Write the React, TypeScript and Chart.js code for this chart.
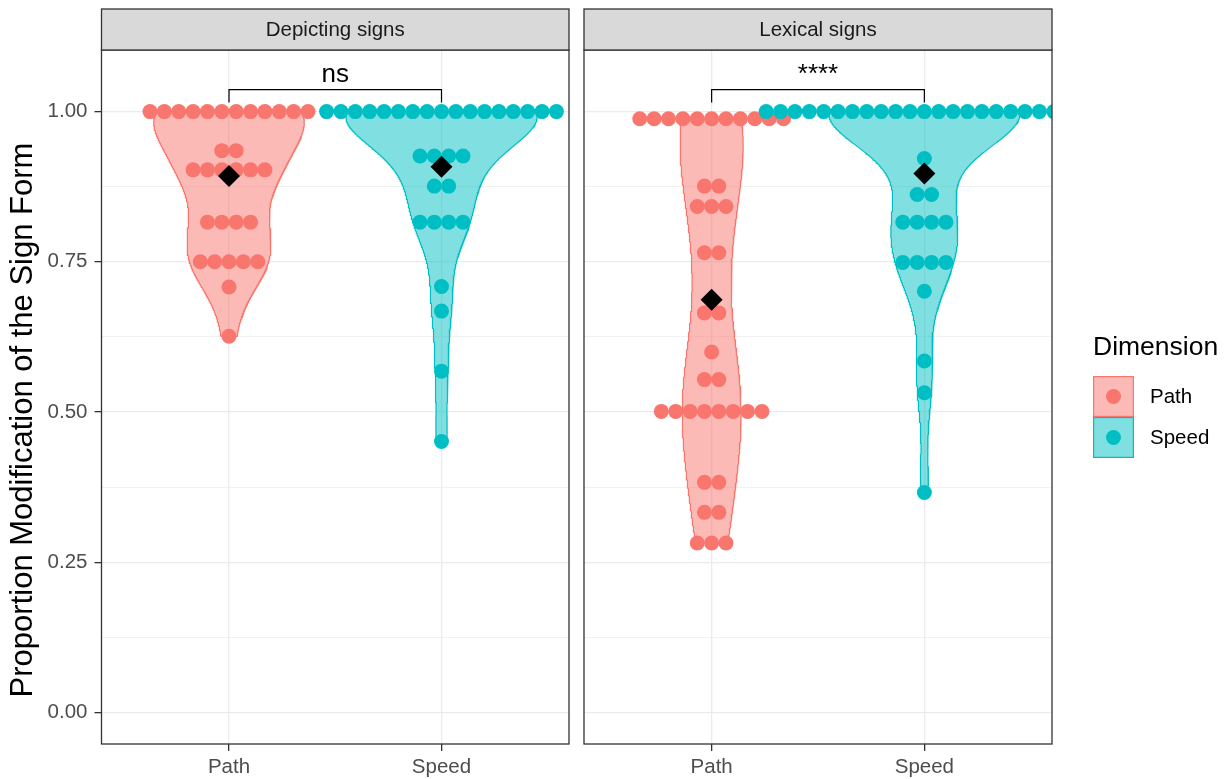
import React, { useEffect, useRef } from 'react';
import { Chart, registerables } from 'chart.js';

Chart.register(...registerables);

// ---------------- data ----------------
const categories = ['Path', 'Speed'];
const facets = ['Depicting signs', 'Lexical signs'];

// Each row of stacked dots: value and number of dots in it
const depictingPathValues = [1.0, 0.935, 0.903, 0.816, 0.75, 0.708, 0.626];
const depictingPathCounts = [12, 2, 6, 4, 5, 1, 1];
const depictingSpeedValues = [1.0, 0.926, 0.876, 0.816, 0.709, 0.668, 0.568, 0.451];
const depictingSpeedCounts = [17, 4, 2, 4, 1, 1, 1, 1];
const lexicalPathValues = [0.988, 0.876, 0.842, 0.765, 0.665, 0.6, 0.554, 0.501, 0.383, 0.333, 0.282];
const lexicalPathCounts = [11, 2, 3, 2, 2, 1, 2, 8, 2, 2, 3];
const lexicalSpeedValues = [1.0, 0.922, 0.862, 0.816, 0.749, 0.701, 0.585, 0.532, 0.366];
const lexicalSpeedCounts = [23, 1, 2, 4, 4, 1, 1, 1, 1];

const depictingMeans = [0.893, 0.908];
const lexicalMeans = [0.687, 0.897];

const significanceLabels = ['ns', '****'];
const yTickValues = [0, 0.25, 0.5, 0.75, 1];
const yTickLabels = ['0.00', '0.25', '0.50', '0.75', '1.00'];
const yMinorValues = [0.125, 0.375, 0.625, 0.875];
const legendTitle = 'Dimension';
const yAxisTitle = 'Proportion Modification of the Sign Form';

// ---------------- styles ----------------
const FONT = '"Liberation Sans", Arial, Helvetica, sans-serif';
const COLORS = ['#F8766D', '#00BFC4'];
const FILLS = ['rgba(248,118,109,0.5)', 'rgba(0,191,196,0.5)'];
const DOT_R = 7.5;
const DOT_STEP = 0.0676; // x units between stacked dots
const VIOLIN_HALF = 0.45;
const BRACKET_Y = 1.0366;
const BRACKET_TIP = 1.015;
const BRACKET_TEXT_Y = 1.05;
const Y_TITLE_X = 23;
const Y_TITLE_CY = 420;
const W = 1228;
const H = 779;

Chart.defaults.font.family = FONT;

// ---------------- helpers ----------------
function expand(values: number[], counts: number[]) {
  const out: number[] = [];
  values.forEach((v, i) => {
    for (let k = 0; k < counts[i]; k++) out.push(v);
  });
  return out;
}

function quantile7(sorted: number[], p: number) {
  const h = (sorted.length - 1) * p;
  const lo = Math.floor(h);
  const hi = Math.ceil(h);
  return sorted[lo] + (h - lo) * (sorted[hi] - sorted[lo]);
}

function bwNrd0(x: number[]) {
  const n = x.length;
  const mean = x.reduce((a, b) => a + b, 0) / n;
  const sd = Math.sqrt(x.reduce((a, b) => a + (b - mean) ** 2, 0) / (n - 1));
  const s = [...x].sort((a, b) => a - b);
  const iqr = quantile7(s, 0.75) - quantile7(s, 0.25);
  let lo = Math.min(sd, iqr / 1.34);
  if (!lo) lo = sd || Math.abs(x[0]) || 1;
  return 0.9 * lo * Math.pow(n, -0.2);
}

function kde(obs: number[], n = 512) {
  const bw = bwNrd0(obs);
  const from = Math.min(...obs);
  const to = Math.max(...obs);
  const ys: number[] = [];
  const ds: number[] = [];
  const norm = 1 / (obs.length * bw * Math.sqrt(2 * Math.PI));
  for (let i = 0; i < n; i++) {
    const y = from + ((to - from) * i) / (n - 1);
    let s = 0;
    for (const o of obs) {
      const z = (y - o) / bw;
      s += Math.exp(-0.5 * z * z);
    }
    ys.push(y);
    ds.push(s * norm);
  }
  return { y: ys, d: ds };
}

function dotRows(values: number[], counts: number[], cx: number) {
  const pts: { x: number; y: number }[] = [];
  values.forEach((v, i) => {
    const n = counts[i];
    for (let k = 0; k < n; k++) pts.push({ x: cx + (k - (n - 1) / 2) * DOT_STEP, y: v });
  });
  return pts;
}

const panels = [
  {
    facet: facets[0],
    groups: [
      [depictingPathValues, depictingPathCounts],
      [depictingSpeedValues, depictingSpeedCounts],
    ],
    means: depictingMeans,
    label: significanceLabels[0],
  },
  {
    facet: facets[1],
    groups: [
      [lexicalPathValues, lexicalPathCounts],
      [lexicalSpeedValues, lexicalSpeedCounts],
    ],
    means: lexicalMeans,
    label: significanceLabels[1],
  },
];

// ---------------- decoration plugin ----------------
const facetPlugin: any = {
  id: 'facetDecor',
  afterDraw(chart: any, _args: any, opts: any) {
    const { ctx, chartArea: a, scales } = chart;
    const xs = scales.x;
    const ys = scales.y;
    ctx.save();
    // panel border
    ctx.strokeStyle = '#333333';
    ctx.lineWidth = 1.3;
    ctx.strokeRect(a.left, a.top, a.right - a.left, a.bottom - a.top);
    // strip
    const stripTop = a.top - 41;
    ctx.fillStyle = '#D9D9D9';
    ctx.fillRect(a.left, stripTop, a.right - a.left, a.top - stripTop);
    ctx.strokeRect(a.left, stripTop, a.right - a.left, a.top - stripTop);
    ctx.fillStyle = '#1A1A1A';
    ctx.font = `20.5px ${FONT}`;
    ctx.textAlign = 'center';
    ctx.textBaseline = 'alphabetic';
    ctx.fillText(opts.strip, (a.left + a.right) / 2, a.top - 14);
    // significance bracket
    const x1 = xs.getPixelForValue(1);
    const x2 = xs.getPixelForValue(2);
    const yb = ys.getPixelForValue(BRACKET_Y);
    const yt = ys.getPixelForValue(BRACKET_TIP);
    ctx.strokeStyle = '#000000';
    ctx.lineWidth = 1.2;
    ctx.beginPath();
    ctx.moveTo(x1, yt);
    ctx.lineTo(x1, yb);
    ctx.lineTo(x2, yb);
    ctx.lineTo(x2, yt);
    ctx.stroke();
    ctx.fillStyle = '#000000';
    ctx.font = `26px ${FONT}`;
    ctx.fillText(opts.label, (x1 + x2) / 2, ys.getPixelForValue(BRACKET_TEXT_Y));
    // y-axis title
    if (opts.yTitle) {
      ctx.save();
      ctx.translate(Y_TITLE_X, Y_TITLE_CY);
      ctx.rotate(-Math.PI / 2);
      ctx.textAlign = 'center';
      ctx.textBaseline = 'middle';
      ctx.fillStyle = '#000000';
      ctx.font = `31px ${FONT}`;
      ctx.fillText(opts.yTitle, 0, 0);
      ctx.restore();
    }
    // legend
    if (opts.legend) {
      const lx = 1093;
      const ly = 376;
      const key = 41;
      ctx.textAlign = 'left';
      ctx.textBaseline = 'middle';
      ctx.fillStyle = '#000000';
      ctx.font = `26.5px ${FONT}`;
      ctx.fillText(legendTitle, lx, 348);
      categories.forEach((c, i) => {
        const top = ly + i * key;
        ctx.fillStyle = '#FFFFFF';
        ctx.fillRect(lx, top, key, key);
        ctx.fillStyle = FILLS[i];
        ctx.fillRect(lx, top, key, key);
        ctx.strokeStyle = COLORS[i];
        ctx.lineWidth = 1.2;
        ctx.strokeRect(lx + 0.6, top + 0.6, key - 1.2, key - 1.2);
        ctx.fillStyle = COLORS[i];
        ctx.beginPath();
        ctx.arc(lx + key / 2, top + key / 2, DOT_R, 0, Math.PI * 2);
        ctx.fill();
        ctx.fillStyle = '#000000';
        ctx.font = `20.5px ${FONT}`;
        ctx.fillText(c, lx + 57, top + key / 2 + 1);
      });
    }
    ctx.restore();
  },
};

function buildConfig(p: number): any {
  const panel = panels[p];
  const isLeft = p === 0;
  const obs = panel.groups.map(([v, c]) => expand(v as number[], c as number[]));
  const dens = obs.map((o) => kde(o));
  let maxD = 0;
  dens.forEach((d) => d.d.forEach((v) => (maxD = Math.max(maxD, v))));

  const datasets: any[] = [];
  dens.forEach((d, g) => {
    const cx = g + 1;
    const left = d.y.map((yy, i) => ({ x: cx - (VIOLIN_HALF * d.d[i]) / maxD, y: yy }));
    const right = d.y.map((yy, i) => ({ x: cx + (VIOLIN_HALF * d.d[i]) / maxD, y: yy })).reverse();
    datasets.push({
      data: [...left, ...right, left[0]],
      showLine: true,
      fill: 'shape',
      backgroundColor: FILLS[g],
      borderColor: COLORS[g],
      borderWidth: 1.2,
      pointRadius: 0,
      pointHoverRadius: 0,
      tension: 0,
      order: 4 - g,
      clip: 0,
    });
  });
  panel.groups.forEach(([v, c], g) => {
    datasets.push({
      data: dotRows(v as number[], c as number[], g + 1),
      backgroundColor: COLORS[g],
      borderWidth: 0,
      pointRadius: DOT_R,
      order: 2 - g,
      clip: 0,
    });
  });
  datasets.push({
    data: panel.means.map((m, i) => ({ x: i + 1, y: m })),
    pointStyle: 'rectRot',
    pointRadius: 11,
    backgroundColor: '#000000',
    borderWidth: 0,
    order: 0,
    clip: 0,
  });

  const isMajor = (v: number) => yTickValues.some((t) => Math.abs(t - v) < 1e-9);

  return {
    type: 'scatter',
    data: { datasets },
    plugins: [facetPlugin],
    options: {
      animation: false,
      responsive: false,
      devicePixelRatio: 1,
      events: [],
      layout: {
        autoPadding: false,
        padding: isLeft
          ? { left: 0, right: W - 569, top: 50, bottom: 0 }
          : { left: 584, right: W - 1052, top: 50, bottom: 0 },
      },
      plugins: {
        legend: { display: false },
        tooltip: { enabled: false },
        facetDecor: {
          strip: panel.facet,
          label: panel.label,
          legend: !isLeft,
          yTitle: isLeft ? yAxisTitle : '',
        },
      },
      scales: {
        x: {
          type: 'linear',
          min: 0.4,
          max: 2.6,
          afterBuildTicks: (s: any) => {
            s.ticks = categories.map((_, i) => ({ value: i + 1 }));
          },
          afterFit: (s: any) => {
            s.height = 35;
          },
          border: { display: false },
          grid: {
            color: '#EBEBEB',
            lineWidth: 1.3,
            tickColor: '#333333',
            tickWidth: 1.3,
            tickLength: 7,
          },
          ticks: {
            autoSkip: false,
            maxRotation: 0,
            padding: 4,
            color: '#4D4D4D',
            font: { size: 20.5 },
            callback: (v: number) => categories[Math.round(v) - 1] ?? '',
          },
        },
        y: {
          type: 'linear',
          min: -0.0525,
          max: 1.1025,
          afterBuildTicks: (s: any) => {
            s.ticks = [...yTickValues, ...yMinorValues].sort((a, b) => a - b).map((v) => ({ value: v }));
          },
          afterFit: (s: any) => {
            s.width = isLeft ? 101.5 : 0;
          },
          border: { display: false },
          title: { display: false },
          grid: {
            drawTicks: isLeft,
            color: '#EBEBEB',
            lineWidth: (c: any) => (c.tick && isMajor(c.tick.value) ? 1.3 : 0.7),
            tickColor: (c: any) => (c.tick && isMajor(c.tick.value) ? '#333333' : 'rgba(0,0,0,0)'),
            tickWidth: 1.3,
            tickLength: 7,
          },
          ticks: {
            display: isLeft,
            autoSkip: false,
            padding: 7,
            color: '#4D4D4D',
            font: { size: 20.5 },
            callback: (v: number) => {
              const idx = yTickValues.findIndex((t) => Math.abs(t - v) < 1e-9);
              return idx >= 0 ? yTickLabels[idx] : '';
            },
          },
        },
      },
    },
  };
}

export default function App() {
  const leftRef = useRef<HTMLCanvasElement>(null);
  const rightRef = useRef<HTMLCanvasElement>(null);
  useEffect(() => {
    const c1 = new Chart(leftRef.current as HTMLCanvasElement, buildConfig(0));
    const c2 = new Chart(rightRef.current as HTMLCanvasElement, buildConfig(1));
    return () => {
      c1.destroy();
      c2.destroy();
    };
  }, []);
  return (
    <div style={{ position: 'absolute', left: 0, top: 0, width: W, height: H, background: '#ffffff' }}>
      <canvas ref={leftRef} width={W} height={H} style={{ position: 'absolute', left: 0, top: 0 }} />
      <canvas ref={rightRef} width={W} height={H} style={{ position: 'absolute', left: 0, top: 0 }} />
    </div>
  );
}
